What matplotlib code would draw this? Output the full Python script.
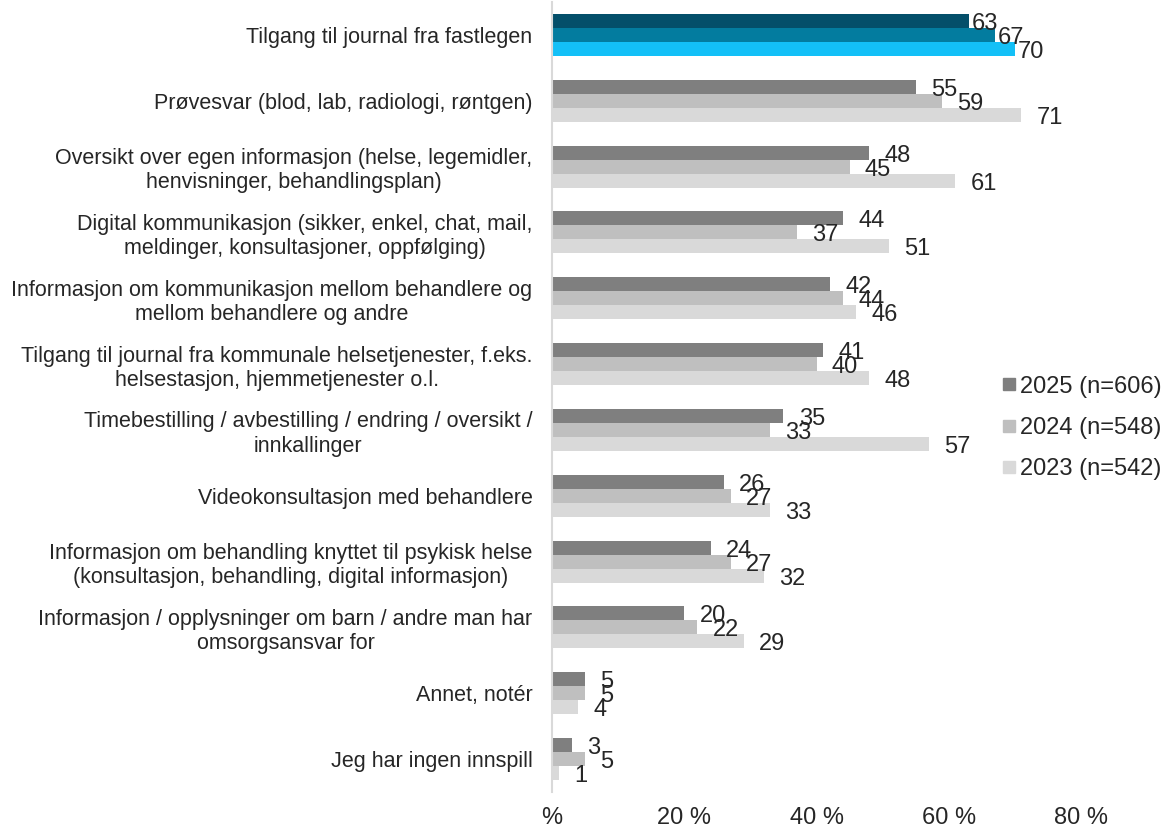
import matplotlib
matplotlib.use("Agg")
import matplotlib.pyplot as plt
from matplotlib.lines import Line2D
import numpy as np

plt.rcParams['font.family'] = ['Liberation Sans', 'DejaVu Sans']

categories = [
    "Tilgang til journal fra fastlegen",
    "Prøvesvar (blod, lab, radiologi, røntgen)",
    "Oversikt over egen informasjon (helse, legemidler,\nhenvisninger, behandlingsplan)",
    "Digital kommunikasjon (sikker, enkel, chat, mail,\nmeldinger, konsultasjoner, oppfølging)",
    "Informasjon om kommunikasjon mellom behandlere og\nmellom behandlere og andre",
    "Tilgang til journal fra kommunale helsetjenester, f.eks.\nhelsestasjon, hjemmetjenester o.l.",
    "Timebestilling / avbestilling / endring / oversikt /\ninnkallinger",
    "Videokonsultasjon med behandlere",
    "Informasjon om behandling knyttet til psykisk helse\n(konsultasjon, behandling, digital informasjon)",
    "Informasjon / opplysninger om barn / andre man har\nomsorgsansvar for",
    "Annet, notér",
    "Jeg har ingen innspill",
]
v2025 = [63, 55, 48, 44, 42, 41, 35, 26, 24, 20, 5, 3]
v2024 = [67, 59, 45, 37, 44, 40, 33, 27, 27, 22, 5, 5]
v2023 = [70, 71, 61, 51, 46, 48, 57, 33, 32, 29, 4, 1]
series_labels = ["2025 (n=606)", "2024 (n=548)", "2023 (n=542)"]
xticks = [0, 20, 40, 60, 80]
xticklabels = ["%", "20 %", "40 %", "60 %", "80 %"]

gray_colors = ["#7F7F7F", "#BFBFBF", "#D9D9D9"]
hi_colors = ["#044F6A", "#037C9F", "#13C0F7"]
txt = "#262626"

fig = plt.figure(figsize=(11.68, 8.30), dpi=100)
ax = fig.add_axes([552/1168, 1-792/830, (1081-552)/1168, 790/830])

y = np.arange(len(categories))
h = 0.213
series = [v2025, v2024, v2023]
for k, vals in enumerate(series):
    cols = [hi_colors[k] if i == 0 else gray_colors[k] for i in range(len(vals))]
    ypos = y + (k - 1) * h
    ax.barh(ypos, vals, height=h, color=cols, linewidth=0)
    for i, (yy, v) in enumerate(zip(ypos, vals)):
        off = 2 if i == 0 else 11
        ax.annotate(str(v), (v, yy), xytext=(off, -2.2), textcoords='offset points',
                    ha='left', va='center', fontsize=17, color=txt)

ax.set_xlim(0, 80)
ax.set_ylim(11.5, -0.5)
ax.set_yticks(y)
ax.set_yticklabels(categories, fontsize=15.5, color=txt, multialignment='center')
ax.set_xticks(xticks)
ax.set_xticklabels(xticklabels, fontsize=17, color=txt)
ax.tick_params(axis='both', length=0)
ax.tick_params(axis='y', pad=14)
ax.tick_params(axis='x', pad=11)
for s in ['top', 'right', 'bottom']:
    ax.spines[s].set_visible(False)
ax.spines['left'].set_color('#D9D9D9')
ax.spines['left'].set_linewidth(1.5)

handles = [Line2D([], [], marker='s', linestyle='none', markersize=9,
                  markerfacecolor=c, markeredgecolor=c) for c in gray_colors]
leg = fig.legend(handles, series_labels, loc='center left',
                 bbox_to_anchor=(990/1168, 1-428/830), frameon=False,
                 fontsize=17, handlelength=0.6, handletextpad=0.15,
                 labelspacing=0.82, borderpad=0)
for t in leg.get_texts():
    t.set_color(txt)

fig.savefig("out.png", dpi=100)
